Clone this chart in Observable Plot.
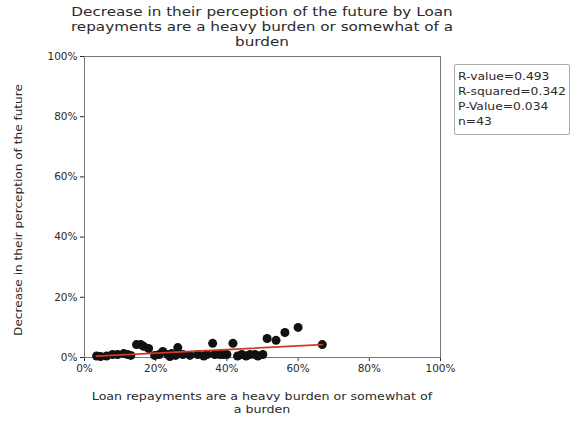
<!DOCTYPE html>
<html>
<head>
<meta charset="utf-8">
<script src="https://cdn.jsdelivr.net/npm/d3@7"></script>
<script src="https://cdn.jsdelivr.net/npm/@observablehq/plot@0.6"></script>
<style>
  html, body { margin: 0; padding: 0; background: #fff; }
  #wrap { position: relative; width: 580px; height: 426px; overflow: hidden; font-family: "DejaVu Sans", sans-serif; color: #2a2a2a; }
  #wrap svg { position: absolute; left: 0; top: 0; }
  .title { position: absolute; left: 12px; width: 500px; top: 4px; text-align: center; font-size: 13px; line-height: 15px; transform: scaleX(1.17); transform-origin: 250px 0; }
  .xlab { position: absolute; left: 62px; width: 400px; top: 390px; text-align: center; font-size: 11px; line-height: 13px; transform: scaleX(1.15); transform-origin: 200px 0; }
  .ylab { position: absolute; left: 18px; top: 210px; transform: translate(-50%, -50%) rotate(-90deg) scaleX(1.1); white-space: nowrap; font-size: 11px; }
  .stats { position: absolute; left: 454px; top: 64px; width: 116px; height: 71px; box-sizing: border-box; border: 1px solid #aaa; border-radius: 2px; background: #fff; }
  .stats div { position: absolute; left: 3px; top: 4px; font-size: 11px; line-height: 15px; white-space: nowrap; transform: scaleX(1.12); transform-origin: 0 0; }
</style>
</head>
<body>
<div id="wrap">
  <div class="title">Decrease in their perception of the future by Loan<br>repayments are a heavy burden or somewhat of a<br>burden</div>
  <div class="ylab">Decrease in their perception of the future</div>
  <div class="xlab">Loan repayments are a heavy burden or somewhat of<br>a burden</div>
  <div class="stats"><div>R-value=0.493<br>R-squared=0.342<br>P-Value=0.034<br>n=43</div></div>
</div>
<script>
// Percent values
const burdenPct = [3.4, 4.5, 6.2, 7.9, 9.3, 11.0, 12.1, 13.0, 14.6, 15.8, 16.6, 18.0, 19.7, 21.0, 22.0, 23.4, 24.0, 24.5, 25.6, 26.2, 27.6, 29.6, 31.8, 33.5, 34.4, 36.0, 36.6, 38.0, 38.9, 40.0, 41.7, 43.0, 44.2, 45.4, 46.5, 47.9, 48.7, 50.1, 51.3, 53.8, 56.3, 60.0, 66.8];
const decreasePct = [0.5, 0.3, 0.5, 1.0, 1.0, 1.3, 1.0, 0.7, 4.3, 4.3, 3.7, 3.0, 0.7, 1.0, 2.0, 1.0, 0.3, 1.3, 0.7, 3.3, 1.0, 0.7, 1.0, 0.5, 1.0, 4.7, 1.0, 1.0, 1.0, 1.0, 4.7, 0.5, 1.0, 0.5, 1.0, 1.0, 0.5, 1.0, 6.3, 5.7, 8.3, 10.0, 4.3];
const axisTicks = [0, 20, 40, 60, 80, 100];

const data = burdenPct.map((x, i) => ({x, y: decreasePct[i]}));

const chart = Plot.plot({
  width: 580,
  height: 426,
  marginLeft: 84,
  marginRight: 140,
  marginTop: 56,
  marginBottom: 69,
  style: {fontFamily: "DejaVu Sans, sans-serif", fontSize: "10.5px", color: "#2a2a2a", background: "transparent"},
  x: {domain: [0, 100], ticks: axisTicks, tickFormat: d => d + "%", label: null, tickSize: 4, tickPadding: 3},
  y: {domain: [0, 100], ticks: axisTicks, tickFormat: d => d + "%", label: null, tickSize: 4, tickPadding: 3},
  marks: [
    Plot.frame({stroke: "#777"}),
    Plot.dot(data, {x: "x", y: "y", r: 4.5, fill: "#111", stroke: "none"}),
    Plot.linearRegressionY(data, {x: "x", y: "y", stroke: "#d23a22", strokeWidth: 1.8, ci: 0})
  ]
});
document.getElementById("wrap").prepend(chart);
</script>
</body>
</html>
